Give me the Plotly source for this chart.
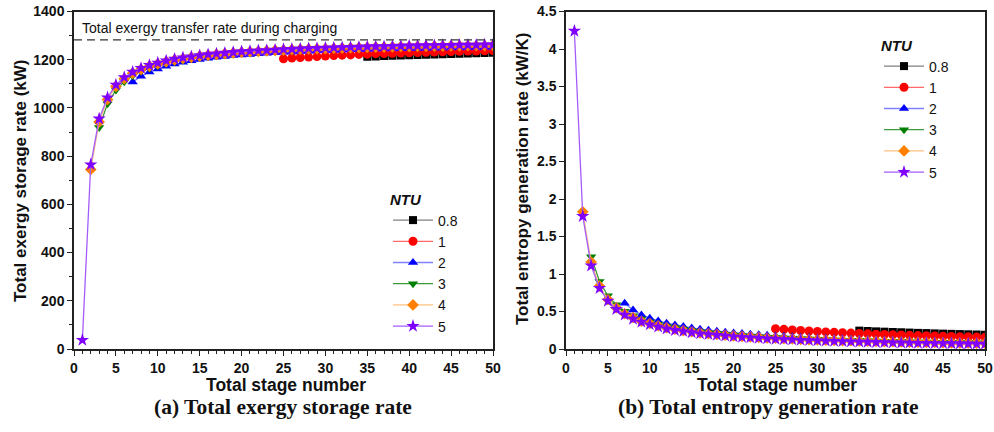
import plotly.graph_objects as go

# ---------------- data ----------------
ntu_labels = ["0.8", "1", "2", "3", "4", "5"]
stage_start = [35, 25, 7, 3, 2, 1]   # first stage number of each NTU series

ex_08 = [1212, 1213, 1215, 1216, 1217, 1219, 1220, 1221, 1222, 1223, 1224, 1225, 1226, 1227, 1228, 1229]
ex_1 = [1204, 1207, 1209, 1211, 1213, 1215, 1217, 1219, 1220, 1222, 1223, 1225, 1226, 1227, 1228, 1229,
        1230, 1231, 1232, 1233, 1234, 1235, 1236, 1236, 1237, 1238]
ex_2 = [1108, 1131, 1149, 1162, 1173, 1182, 1189, 1196, 1201, 1206, 1210, 1213, 1217, 1220, 1222, 1225,
        1227, 1229, 1231, 1232, 1234, 1235, 1237, 1238, 1239, 1240, 1241, 1242, 1243, 1244, 1245, 1245,
        1246, 1247, 1247, 1248, 1249, 1249, 1250, 1250, 1251, 1251, 1252, 1252]
ex_3 = [919, 1017, 1074, 1109, 1134, 1152, 1165, 1176, 1185, 1193, 1199, 1205, 1210, 1214, 1218, 1221,
        1224, 1227, 1229, 1231, 1233, 1235, 1237, 1238, 1240, 1241, 1242, 1243, 1244, 1245, 1246, 1247,
        1248, 1249, 1249, 1250, 1251, 1251, 1252, 1252, 1253, 1253, 1254, 1254, 1255, 1255, 1255, 1256]
ex_4 = [745, 942, 1035, 1089, 1121, 1144, 1160, 1173, 1183, 1192, 1199, 1205, 1210, 1215, 1219, 1222,
        1225, 1228, 1231, 1233, 1235, 1237, 1239, 1240, 1242, 1243, 1244, 1245, 1246, 1247, 1248, 1249,
        1250, 1251, 1252, 1252, 1253, 1254, 1254, 1255, 1255, 1256, 1256, 1257, 1257, 1258, 1258, 1258, 1259]
ex_5 = [37, 765, 955, 1043, 1096, 1127, 1149, 1165, 1177, 1187, 1196, 1203, 1209, 1213, 1218, 1222,
        1225, 1228, 1231, 1234, 1236, 1238, 1239, 1241, 1243, 1244, 1246, 1247, 1248, 1249, 1250, 1251,
        1252, 1253, 1254, 1255, 1255, 1256, 1257, 1258, 1258, 1259, 1259, 1260, 1260, 1261, 1261, 1261, 1262, 1262]

sg_08 = [0.245, 0.240, 0.235, 0.231, 0.227, 0.223, 0.219, 0.215, 0.212, 0.208, 0.205, 0.202, 0.199, 0.196, 0.193, 0.190]
sg_1 = [0.270, 0.262, 0.254, 0.247, 0.240, 0.234, 0.228, 0.222, 0.217, 0.212, 0.207, 0.202, 0.198, 0.194,
        0.190, 0.186, 0.182, 0.179, 0.176, 0.173, 0.170, 0.167, 0.164, 0.162, 0.159, 0.157]
sg_2 = [0.61, 0.52, 0.455, 0.41, 0.375, 0.345, 0.32, 0.30, 0.28, 0.265, 0.25, 0.237, 0.225, 0.215, 0.206,
        0.197, 0.189, 0.182, 0.175, 0.169, 0.163, 0.158, 0.153, 0.148, 0.144, 0.140, 0.136, 0.132, 0.129,
        0.126, 0.123, 0.120, 0.117, 0.115, 0.112, 0.110, 0.108, 0.106, 0.104, 0.102, 0.100, 0.098, 0.096, 0.095]
sg_3 = [1.23, 0.90, 0.71, 0.59, 0.505, 0.445, 0.40, 0.36, 0.33, 0.305, 0.285, 0.265, 0.245, 0.23, 0.218,
        0.207, 0.197, 0.187, 0.179, 0.171, 0.164, 0.158, 0.152, 0.146, 0.141, 0.137, 0.133, 0.129, 0.125,
        0.121, 0.118, 0.115, 0.112, 0.109, 0.106, 0.104, 0.101, 0.099, 0.097, 0.095, 0.093, 0.091, 0.089,
        0.087, 0.086, 0.084, 0.083, 0.081]
sg_4 = [1.83, 1.16, 0.84, 0.66, 0.55, 0.47, 0.42, 0.37, 0.34, 0.31, 0.285, 0.265, 0.245, 0.23, 0.215,
        0.205, 0.195, 0.185, 0.175, 0.168, 0.161, 0.154, 0.147, 0.143, 0.137, 0.133, 0.129, 0.126, 0.122,
        0.119, 0.116, 0.113, 0.110, 0.107, 0.104, 0.102, 0.099, 0.097, 0.095, 0.093, 0.091, 0.089, 0.087,
        0.085, 0.083, 0.081, 0.080, 0.079, 0.078]
sg_5 = [4.24, 1.77, 1.11, 0.81, 0.64, 0.53, 0.455, 0.40, 0.36, 0.325, 0.295, 0.27, 0.25, 0.235, 0.22,
        0.205, 0.195, 0.185, 0.175, 0.165, 0.158, 0.151, 0.145, 0.139, 0.133, 0.128, 0.124, 0.119, 0.115,
        0.111, 0.108, 0.104, 0.101, 0.098, 0.095, 0.093, 0.090, 0.088, 0.086, 0.083, 0.081, 0.079, 0.078,
        0.076, 0.074, 0.073, 0.071, 0.070, 0.068, 0.067]

exergy_input = 1282  # total exergy transfer rate during charging (kW)

exergy_series = [ex_08, ex_1, ex_2, ex_3, ex_4, ex_5]
entropy_series = [sg_08, sg_1, sg_2, sg_3, sg_4, sg_5]

# ---------------- styles ----------------
marker_colors = ["#000000", "#ff0000", "#0000ff", "#008000", "#ff8000", "#8000ff"]
line_colors = ["#808080", "#ff6a6a", "#8080ff", "#3c9a3c", "#ffc080", "#a45cff"]
symbols = ["square", "circle", "triangle-up", "triangle-down", "diamond", "star"]
msize = [8, 9, 9, 9, 9, 10]

fig = go.Figure()
for i, lab in enumerate(ntu_labels):
    xs = list(range(stage_start[i], stage_start[i] + len(exergy_series[i])))
    fig.add_trace(go.Scatter(
        x=xs, y=exergy_series[i], mode="lines+markers", name=lab,
        line=dict(color=line_colors[i], width=1.3),
        marker=dict(color=marker_colors[i], symbol=symbols[i], size=msize[i], line=dict(width=0)),
        xaxis="x", yaxis="y", legend="legend"))
for i, lab in enumerate(ntu_labels):
    xs = list(range(stage_start[i], stage_start[i] + len(entropy_series[i])))
    fig.add_trace(go.Scatter(
        x=xs, y=entropy_series[i], mode="lines+markers", name=lab,
        line=dict(color=line_colors[i], width=1.3),
        marker=dict(color=marker_colors[i], symbol=symbols[i], size=msize[i], line=dict(width=0)),
        xaxis="x2", yaxis="y2", legend="legend2"))

# dashed reference line
fig.add_trace(go.Scatter(x=[0, 50], y=[exergy_input, exergy_input], mode="lines",
                         line=dict(color="#333333", width=1.3, dash="8px,5px"),
                         showlegend=False, xaxis="x", yaxis="y", hoverinfo="skip"))

tickfont = dict(family="Liberation Sans, Arial", size=14, color="#111111", weight="bold")
W, H = 994, 432
ytop, ybot = 11.5, 349
ydom = [(H - ybot) / H, (H - ytop) / H]


def xax(x0, x1):
    return dict(domain=[x0 / W, x1 / W], range=[0, 50], dtick=5, tick0=0,
                showline=True, linecolor="#222222", linewidth=1.5, mirror=True,
                ticks="outside", ticklen=5, tickwidth=1.2, tickcolor="#222222",
                minor=dict(dtick=1, ticks="outside", ticklen=3, tickwidth=1, tickcolor="#222222"),
                showgrid=False, zeroline=False, tickfont=tickfont, automargin=False)


def yax(anchor, rng, dt, minor_dt):
    d = dict(domain=ydom, range=rng, dtick=dt, tick0=0, anchor=anchor,
             showline=True, linecolor="#222222", linewidth=1.5, mirror=True,
             ticks="outside", ticklen=5, tickwidth=1.2, tickcolor="#222222",
             showgrid=False, zeroline=False, tickfont=tickfont, automargin=False)
    if minor_dt:
        d["minor"] = dict(dtick=minor_dt, ticks="outside", ticklen=3, tickwidth=1, tickcolor="#222222")
    return d


legfont = dict(family="Liberation Sans, Arial", size=14, color="#111111")
legtitle = dict(text="<b><i>NTU</i></b>", font=dict(family="Liberation Sans, Arial", size=15, color="#111111"))

fig.update_layout(
    width=W, height=H, margin=dict(l=0, r=0, t=0, b=0, autoexpand=False),
    paper_bgcolor="white", plot_bgcolor="white",
    xaxis=dict(xax(74, 493), anchor="y"),
    yaxis=yax("x", [0, 1400], 200, 100),
    xaxis2=dict(xax(566, 985), anchor="y2"),
    yaxis2=yax("x2", [0, 4.5], 0.5, None),
    legend=dict(x=388 / W, y=(H - 185) / H, xanchor="left", yanchor="top",
                bgcolor="rgba(0,0,0,0)", font=legfont, title=legtitle,
                tracegroupgap=0, itemwidth=40),
    legend2=dict(x=879 / W, y=(H - 31) / H, xanchor="left", yanchor="top",
                 bgcolor="rgba(0,0,0,0)", font=legfont, title=legtitle,
                 tracegroupgap=0, itemwidth=40),
    showlegend=True,
)

bold = "Liberation Sans, Arial"
serif = "Liberation Serif, Times New Roman"
ann = [
    dict(text="Total exergy transfer rate during charging", x=80 / W, y=(H - 28) / H,
         xanchor="left", yanchor="middle", font=dict(family=bold, size=14, color="#111111")),
    dict(text="<b>Total exergy storage rate (kW)</b>", x=20 / W, y=(H - 181) / H, textangle=-90,
         xanchor="center", yanchor="middle", font=dict(family=bold, size=17, color="#111111")),
    dict(text="<b>Total entropy generation rate (kW/K)</b>", x=522 / W, y=(H - 179) / H, textangle=-90,
         xanchor="center", yanchor="middle", font=dict(family=bold, size=17, color="#111111")),
    dict(text="<b>Total stage number</b>", x=286 / W, y=(H - 385) / H,
         xanchor="center", yanchor="middle", font=dict(family=bold, size=17.5, color="#111111")),
    dict(text="<b>Total stage number</b>", x=777 / W, y=(H - 385) / H,
         xanchor="center", yanchor="middle", font=dict(family=bold, size=17.5, color="#111111")),
    dict(text="<b>(a) Total exergy storage rate</b>", x=283 / W, y=(H - 407) / H,
         xanchor="center", yanchor="middle", font=dict(family=serif, size=21.5, color="#111111")),
    dict(text="<b>(b) Total entropy generation rate</b>", x=768 / W, y=(H - 407) / H,
         xanchor="center", yanchor="middle", font=dict(family=serif, size=21.5, color="#111111")),
]
for a in ann:
    a.update(xref="paper", yref="paper", showarrow=False)
fig.update_layout(annotations=ann)

fig.write_html("out.html",
               post_script="document.body.style.margin='0';document.body.style.padding='0';"
                           "document.documentElement.style.overflow='hidden';")
